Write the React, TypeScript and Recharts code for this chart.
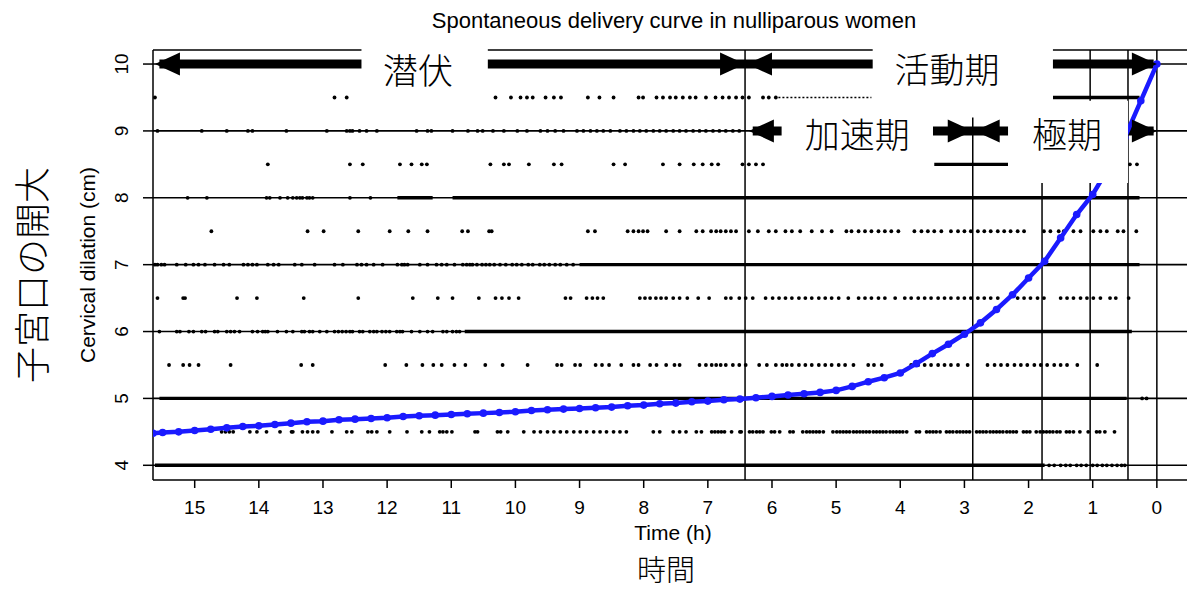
import {
  ScatterChart,
  Scatter,
  XAxis,
  YAxis,
  ReferenceLine,
  ReferenceArea,
  ReferenceDot,
} from 'recharts';

const X_DOMAIN = [-0.47, 15.65];
const Y_DOMAIN = [3.78, 10.21];
const xTicks = [15, 14, 13, 12, 11, 10, 9, 8, 7, 6, 5, 4, 3, 2, 1, 0];
const yTicks = [4, 5, 6, 7, 8, 9, 10];

// fitted delivery curve (blue)
const curveTime = [
  15.65, 15.5, 15.25, 15, 14.75, 14.5, 14.25, 14, 13.75, 13.5, 13.25, 13, 12.75, 12.5, 12.25, 12,
  11.75, 11.5, 11.25, 11, 10.75, 10.5, 10.25, 10, 9.75, 9.5, 9.25, 9, 8.75, 8.5, 8.25, 8, 7.75,
  7.5, 7.25, 7, 6.75, 6.5, 6.25, 6, 5.75, 5.5, 5.25, 5, 4.75, 4.5, 4.25, 4, 3.75, 3.5, 3.25, 3,
  2.75, 2.5, 2.25, 2, 1.75, 1.5, 1.25, 1, 0.75, 0.5, 0.25, 0,
];
const curveCm = [
  4.48, 4.49, 4.5, 4.52, 4.54, 4.56, 4.58, 4.59, 4.61, 4.63, 4.65, 4.66, 4.68, 4.69, 4.7, 4.71,
  4.73, 4.74, 4.75, 4.76, 4.77, 4.78, 4.79, 4.8, 4.82, 4.83, 4.84, 4.85, 4.86, 4.87, 4.89, 4.9,
  4.92, 4.93, 4.95, 4.96, 4.98, 4.99, 5.01, 5.03, 5.05, 5.07, 5.09, 5.12, 5.18, 5.25, 5.31, 5.38,
  5.52, 5.67, 5.81, 5.96, 6.13, 6.33, 6.55, 6.8, 7.05, 7.4, 7.75, 8.05, 8.45, 8.9, 9.45, 10.0,
];

// observations (time before delivery) per dilation level
const dots95 = [
  15.62, 12.82, 12.63, 10.31, 10.07, 9.92, 9.82, 9.73, 9.53, 9.4, 9.29, 8.87, 8.69, 8.47, 8.08,
  8.01, 7.8, 7.7, 7.59, 7.5, 7.39, 7.28, 7.19, 7.03, 6.88, 6.77, 6.67, 6.56, 6.46, 6.36, 6.14,
  6.05, 5.94,
];
const dots9 = [
  15.58, 14.89, 14.5, 14.17, 14.1, 13.57, 12.94, 12.63, 12.58, 12.54, 12.43, 12.32, 12.16, 11.54,
  11.37, 11.31, 10.98, 10.74, 10.59, 10.51, 10.35, 10.18, 9.97, 9.82, 9.61, 9.5, 9.38, 9.25, 9.04,
  8.94, 8.83, 8.73, 8.63, 8.52, 8.37, 8.27, 8.16, 8.06, 7.96, 7.85, 7.75, 7.65, 7.54, 7.44, 7.34,
  7.23, 7.13, 7.03, 6.92, 6.82, 6.72, 6.61, 6.51,
];
const dots85 = [
  13.86, 12.58, 12.38, 11.8, 11.62, 11.46, 11.38, 10.39, 10.18, 10.1, 9.79, 9.4, 9.28, 8.47, 8.29,
  7.7, 7.44, 7.22, 7.08, 6.94, 6.84, 6.46, 6.36, 6.25, 6.14, 0.42, 0.31,
];
const dots8 = [
  15.11, 14.81, 13.88, 13.83, 13.67, 13.55, 13.47, 13.41, 13.36, 13.32, 13.25, 13.21, 13.16, 12.58,
  12.26,
];
const dots75 = [
  14.74, 13.24, 12.99, 12.45, 11.96, 11.67, 11.37, 10.83, 10.74, 10.41, 10.37, 8.87, 8.76, 8.25,
  8.16, 8.08, 8.01, 7.94, 7.65, 7.44, 7.18, 7.08, 6.95, 6.87, 6.8, 6.72, 6.64, 6.56, 6.36, 6.22,
  6.05, 5.94, 5.79, 5.69, 5.56, 5.38, 5.22, 5.07, 4.84, 4.76, 4.65, 4.55, 4.45, 4.34, 4.24, 4.14,
  4.03, 3.78, 3.67, 3.57, 3.47, 3.36, 3.21, 3.1, 3.0, 2.9, 2.79, 2.69, 2.59, 2.48, 2.38, 2.28,
  2.17, 2.07, 1.76, 1.66, 1.53, 1.45, 1.3, 1.19, 0.99, 0.88, 0.78, 0.61, 0.52, 0.32,
];
const dots7 = [
  15.62, 15.58, 15.52, 15.47, 15.28, 15.14, 15.02, 14.94, 14.84, 14.69, 14.55, 14.46, 14.24, 14.17,
  14.1, 14.03, 13.86, 13.77, 13.69, 13.44, 13.33, 13.13, 12.82, 12.69, 12.47, 12.4, 12.32, 12.21,
  12.07, 11.84, 11.77, 11.73, 11.68, 11.49, 11.37, 11.23, 11.15, 11.07, 10.95, 10.82, 10.76, 10.71,
  10.67, 10.6, 10.52, 10.46, 10.4, 10.33, 10.24, 10.15, 10.05, 9.98, 9.9, 9.8, 9.73, 9.62, 9.55,
  9.47, 9.38, 9.3, 9.2, 9.1,
];
const dots65 = [
  15.58, 15.18, 15.15, 14.34, 14.03, 13.3, 12.45, 11.6, 11.21, 10.98, 10.57, 10.31, 10.21, 10.1,
  9.95, 9.22, 9.14, 8.89, 8.8, 8.72, 8.63, 8.06, 7.98, 7.9, 7.81, 7.73, 7.65, 7.54, 7.44, 7.32,
  7.15, 6.98, 6.72, 6.64, 6.51, 6.41, 6.3, 6.1, 5.99, 5.89, 5.79, 5.69, 5.58, 5.48, 5.38, 5.27,
  5.17, 5.07, 4.96, 4.81, 4.65, 4.55, 4.45, 4.34, 4.24, 4.08, 3.93, 3.83, 3.72, 3.62, 3.52, 3.41,
  3.31, 3.21, 3.1, 3.0, 2.9, 2.79, 2.69, 2.59, 2.48, 2.17, 2.07, 1.97, 1.86, 1.76, 1.5, 1.4, 1.3,
  1.19, 1.09, 0.99, 0.88, 0.73, 0.64, 0.44,
];
const dots6 = [
  15.55, 15.28, 15.23, 15.09, 15.02, 14.89, 14.83, 14.69, 14.64, 14.5, 14.44, 14.38, 14.3, 14.1,
  14.02, 13.94, 13.9, 13.86, 13.71, 13.57, 13.47, 13.33, 13.29, 13.21, 13.16, 13.05, 12.94, 12.82,
  12.76, 12.7, 12.64, 12.58, 12.54, 12.43, 12.38, 12.27, 12.21, 12.16, 12.08, 12.02, 11.96, 11.85,
  11.8, 11.76, 11.62, 11.49, 11.37, 11.29, 11.13, 11.07, 10.98, 10.92, 10.87,
];
const dots55 = [
  15.4, 15.18, 15.08, 14.94, 14.44, 13.34, 13.16, 12.03, 11.7, 11.45, 11.28, 11.15, 10.95, 10.78,
  10.47, 10.2, 9.81, 9.35, 9.28, 9.07, 8.99, 8.75, 8.65, 8.54, 8.35, 8.16, 8.08, 7.9, 7.8, 7.65,
  7.52, 7.44, 7.13, 7.03, 6.94, 6.87, 6.8, 6.72, 6.61, 6.51, 6.41, 6.2, 6.08, 5.94, 5.84, 5.77,
  5.69, 5.58, 5.48, 5.38, 5.27, 5.17, 5.07, 4.96, 4.86, 4.73, 4.5, 4.41, 4.29, 3.83, 3.72, 3.62,
  3.52, 3.41, 3.31, 3.21, 3.1, 2.95, 2.64, 2.53, 2.43, 2.33, 2.22, 2.12, 2.02, 1.91, 1.81, 1.71,
  1.6, 1.5, 1.4, 1.24, 0.93,
];
const dots5 = [0.23, 0.16];
const dots45 = [
  14.58, 14.52, 14.46, 14.4, 14.14, 14.03, 13.88, 13.67, 13.49, 13.47, 13.32, 13.24, 13.16, 13.08,
  12.86, 12.63, 12.55, 12.3, 12.24, 12.16, 11.96, 11.69, 11.46, 11.34, 11.18, 11.13, 11.07, 10.99,
  10.63, 10.59, 10.28, 10.23, 10.12, 9.87, 9.71, 9.61, 9.5, 9.4, 9.3, 9.2, 9.09, 8.99, 8.89, 8.78,
  8.68, 8.58, 8.47, 8.37, 8.27, 7.85, 7.75, 7.54, 7.44, 7.34, 7.18, 7.1, 6.94, 6.89, 6.84, 6.79,
  6.74, 6.63, 6.5, 6.48, 6.35, 6.3, 6.24, 6.19, 6.14, 6.01, 5.96, 5.88, 5.72, 5.67, 5.52, 5.46,
  5.41, 5.36, 5.31, 5.26, 5.2, 5.05, 4.99, 4.94, 4.89, 4.84, 4.79, 4.73, 4.68, 4.63, 4.58, 4.53,
  4.48, 4.42, 4.37, 4.32, 4.27, 4.22, 4.16, 4.11, 4.06, 4.01, 3.96, 3.9, 3.75, 3.7, 3.59, 3.54,
  3.49, 3.44, 3.38, 3.28, 3.23, 3.18, 3.12, 3.07, 3.02, 2.97, 2.92, 2.81, 2.76, 2.71, 2.66, 2.6,
  2.55, 2.5, 2.45, 2.4, 2.34, 2.29, 2.24, 2.19, 2.08, 2.03, 1.98, 1.88, 1.82, 1.77, 1.72, 1.67,
  1.62, 1.56, 1.51, 1.41, 1.36, 1.3, 1.2, 1.07, 0.94, 0.89, 0.81, 0.66,
];
const dots4 = [1.68, 1.6, 1.5, 1.42, 1.35, 1.25, 1.18, 1.1, 1.0, 0.93, 0.85, 0.78, 0.7, 0.62, 0.55, 0.5];

// stretches where the observations merge into a solid band
const runs95 = [[1.62, 0.27]];
const fineRuns95 = [[5.9, 4.45]];
const runs85 = [[3.47, 2.32]];
const runs8 = [[11.84, 11.29], [10.98, 0.27]];
const runs7 = [[9.0, 0.27]];
const runs6 = [[10.79, 0.39]];
const runs5 = [[15.55, 0.47]];
const runs4 = [[15.62, 1.75]];

const scatterRows = [
  { cm: 9.5, times: dots95 },
  { cm: 9, times: dots9 },
  { cm: 8.5, times: dots85 },
  { cm: 8, times: dots8 },
  { cm: 7.5, times: dots75 },
  { cm: 7, times: dots7 },
  { cm: 6.5, times: dots65 },
  { cm: 6, times: dots6 },
  { cm: 5.5, times: dots55 },
  { cm: 5, times: dots5 },
  { cm: 4.5, times: dots45 },
  { cm: 4, times: dots4 },
];
const bandRows = [
  { cm: 9.5, runs: runs95 },
  { cm: 8.5, runs: runs85 },
  { cm: 8, runs: runs8 },
  { cm: 7, runs: runs7 },
  { cm: 6, runs: runs6 },
  { cm: 5, runs: runs5 },
  { cm: 4, runs: runs4 },
];

// phase boundaries: curve reaches 5, 6, 7, 8, 9, 10 cm
const phaseTimes = [6.42, 2.87, 1.79, 1.04, 0.45, 0];

// phase annotations
const labelBoxes = [
  { t1: 12.4, t2: 10.43, c1: 9.34, c2: 10.35 },
  { t1: 4.43, t2: 1.62, c1: 9.2, c2: 10.36 },
  { t1: 5.85, t2: 3.49, c1: 8.41, c2: 9.45 },
  { t1: 2.32, t2: 0.45, c1: 8.22, c2: 9.45 },
];
const phaseLabels = [
  { text: '潜伏', t: 11.52, cm: 9.94 },
  { text: '活動期', t: 3.27, cm: 9.95 },
  { text: '加速期', t: 4.67, cm: 8.98 },
  { text: '極期', t: 1.4, cm: 8.98 },
];
const arrowShafts = [
  { cm: 10, from: 15.55, to: 0.05 },
  { cm: 9, from: 6.3, to: 0.05 },
];
const arrowHeads = [
  { t: 15.62, cm: 10, dir: -1 },
  { t: 6.42, cm: 10, dir: 1 },
  { t: 6.39, cm: 10, dir: -1 },
  { t: 0, cm: 10, dir: 1 },
  { t: 6.36, cm: 9, dir: -1 },
  { t: 2.87, cm: 9, dir: 1 },
  { t: 2.84, cm: 9, dir: -1 },
  { t: 0, cm: 9, dir: 1 },
];

const curveData = curveTime.map((t, i) => ({ t, cm: curveCm[i] }));

const SANS = '"Liberation Sans", Arial, sans-serif';
const CJK = '"Noto Sans CJK JP", sans-serif';
const MARGIN = { top: 50, right: 0, bottom: 0, left: 0 };
const OVERLAY_MARGIN = { top: 50, right: 0, bottom: 109, left: 153 };

const BlackDot = (p: any) => <circle cx={p.cx} cy={p.cy} r={1.9} fill="#000" />;
const BlueDot = (p: any) => <circle cx={p.cx} cy={p.cy} r={3.8} fill="#1a1aff" />;

const headShape = (dir: number) => (p: any) => {
  const w = 25;
  const h = 23;
  const bx = p.cx - dir * w;
  return (
    <polygon
      points={`${p.cx},${p.cy} ${bx},${p.cy - h / 2} ${bx},${p.cy + h / 2}`}
      fill="#000"
    />
  );
};

const labelShape = (text: string) => (p: any) => (
  <text
    x={p.cx}
    y={p.cy}
    textAnchor="middle"
    dominantBaseline="central"
    fontSize={35}
    fontFamily={CJK}
    fontWeight={300}
    fill="#000"
  >
    {text}
  </text>
);

const XTick = (p: any) => (
  <text x={p.x} y={p.y} textAnchor="middle" dominantBaseline="central" fontSize={19} fontFamily={SANS} fill="#000">
    {p.payload.value}
  </text>
);

const YTick = (p: any) => (
  <text
    x={p.x}
    y={p.y}
    transform={`rotate(-90, ${p.x}, ${p.y})`}
    textAnchor="middle"
    dominantBaseline="central"
    fontSize={19}
    fontFamily={SANS}
    fill="#000"
  >
    {p.payload.value}
  </text>
);

export default function App() {
  return (
    <div style={{ position: 'relative', width: 1187, height: 589, background: '#fff' }}>
      <style>{'body{margin:0}'}</style>
      <ScatterChart width={1187} height={589} margin={MARGIN}>
        <XAxis
          type="number"
          dataKey="t"
          domain={X_DOMAIN}
          reversed
          allowDataOverflow
          ticks={xTicks}
          tick={XTick}
          tickSize={8}
          tickMargin={19}
          height={109}
          stroke="#000"
          strokeWidth={1.5}
        />
        <YAxis
          type="number"
          dataKey="cm"
          domain={Y_DOMAIN}
          allowDataOverflow
          ticks={yTicks}
          tick={YTick}
          tickSize={10}
          tickMargin={21}
          width={153}
          stroke="#000"
          strokeWidth={1.5}
        />
        <ReferenceLine y={Y_DOMAIN[1]} stroke="#000" strokeWidth={1.5} />
        {yTicks.map((v) => (
          <ReferenceLine key={`h${v}`} y={v} stroke="#000" strokeWidth={1.6} />
        ))}
        {phaseTimes.map((t) => (
          <ReferenceLine key={`v${t}`} x={t} stroke="#000" strokeWidth={1.5} />
        ))}
        {scatterRows.map((row) => (
          <Scatter
            key={`s${row.cm}`}
            data={row.times.map((t) => ({ t, cm: row.cm }))}
            shape={BlackDot}
            isAnimationActive={false}
          />
        ))}
        {bandRows.map((row) =>
          row.runs.map(([a, b]) => (
            <ReferenceLine
              key={`r${row.cm}-${a}`}
              segment={[{ x: a, y: row.cm }, { x: b, y: row.cm }]}
              stroke="#000"
              strokeWidth={3.4}
            />
          ))
        )}
        {fineRuns95.map(([a, b]) => (
          <ReferenceLine
            key={`f${a}`}
            segment={[{ x: a, y: 9.5 }, { x: b, y: 9.5 }]}
            stroke="#000"
            strokeWidth={1.6}
            strokeDasharray="2 2"
          />
        ))}
        <Scatter
          data={curveData}
          shape={BlueDot}
          line={{ stroke: '#1a1aff', strokeWidth: 4.5 }}
          isAnimationActive={false}
        />
        {arrowShafts.map((s) => (
          <ReferenceLine
            key={`a${s.cm}`}
            segment={[{ x: s.from, y: s.cm }, { x: s.to, y: s.cm }]}
            stroke="#000"
            strokeWidth={9}
          />
        ))}
      </ScatterChart>

      {/* annotation layer: same scales, drawn on top of the data */}
      <div style={{ position: 'absolute', left: 0, top: 0 }}>
        <ScatterChart width={1187} height={589} margin={OVERLAY_MARGIN}>
          <XAxis type="number" dataKey="t" domain={X_DOMAIN} reversed allowDataOverflow hide />
          <YAxis type="number" dataKey="cm" domain={Y_DOMAIN} allowDataOverflow hide />
          <Scatter data={[]} isAnimationActive={false} />
          {labelBoxes.map((b, i) => (
            <ReferenceArea
              key={`b${i}`}
              x1={b.t1}
              x2={b.t2}
              y1={b.c1}
              y2={b.c2}
              fill="#fff"
              fillOpacity={1}
              stroke="none"
              ifOverflow="visible"
            />
          ))}
          {arrowHeads.map((h, i) => (
            <ReferenceDot key={`hd${i}`} x={h.t} y={h.cm} r={1} shape={headShape(h.dir)} ifOverflow="visible" />
          ))}
          {phaseLabels.map((l) => (
            <ReferenceDot key={l.text} x={l.t} y={l.cm} r={1} shape={labelShape(l.text)} />
          ))}
        </ScatterChart>
      </div>

      <svg
        width={1187}
        height={589}
        style={{ position: 'absolute', left: 0, top: 0, pointerEvents: 'none' }}
      >
        <text x={674} y={28} textAnchor="middle" fontSize={22} fontFamily={SANS} fill="#000">
          Spontaneous delivery curve in nulliparous women
        </text>
        <text x={673} y={540} textAnchor="middle" fontSize={21} fontFamily={SANS} fill="#000">
          Time (h)
        </text>
        <text x={666} y={568} textAnchor="middle" dominantBaseline="central" fontSize={29} fontFamily={CJK} fontWeight={300} fill="#000">
          時間
        </text>
        <text x={95} y={265} transform="rotate(-90, 95, 265)" textAnchor="middle" fontSize={21} fontFamily={SANS} fill="#000">
          Cervical dilation (cm)
        </text>
        <text x={30} y={275} transform="rotate(-90, 30, 275)" textAnchor="middle" dominantBaseline="central" fontSize={36} fontFamily={CJK} fontWeight={300} fill="#000">
          子宮口の開大
        </text>
      </svg>
    </div>
  );
}
